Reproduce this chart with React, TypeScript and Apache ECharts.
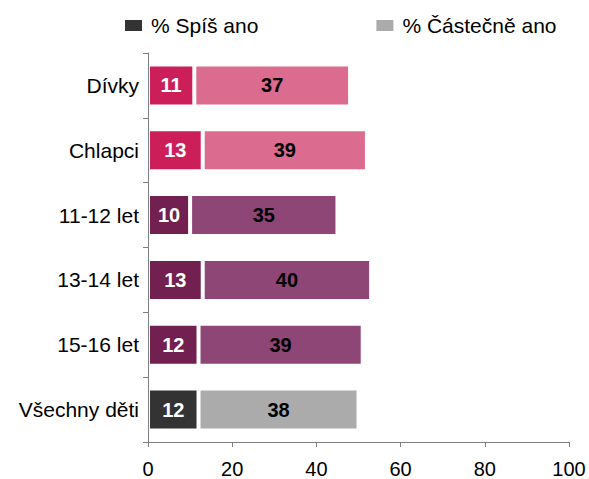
import React, { useEffect, useRef } from "react";
import * as echarts from "echarts";

const categories = ["Dívky", "Chlapci", "11-12 let", "13-14 let", "15-16 let", "Všechny děti"];
const spisAno = [11, 13, 10, 13, 12, 12];
const castecneAno = [37, 39, 35, 40, 39, 38];
const seriesNames = ["% Spíš ano", "% Částečně ano"];
const darkColors = ["#cc1f5a", "#cc1f5a", "#722050", "#722050", "#722050", "#333333"];
const lightColors = ["#db6b8f", "#db6b8f", "#8e4677", "#8e4677", "#8e4677", "#ababab"];
const xTicks = { min: 0, max: 100, interval: 20 };

const FONT = "'Liberation Sans', Arial, sans-serif";

export default function App() {
  const ref = useRef<HTMLDivElement>(null);
  useEffect(() => {
    if (!ref.current) return;
    const chart = echarts.init(ref.current, undefined, { renderer: "svg" });
    const labelBase = { show: true, position: "inside", fontFamily: FONT, fontSize: 20, fontWeight: "bold" };
    chart.setOption({
      animation: false,
      textStyle: { fontFamily: FONT },
      legend: {
        left: 118,
        top: 10,
        itemWidth: 19,
        itemHeight: 13,
        itemGap: 116,
        icon: "rect",
        textStyle: { fontFamily: FONT, fontSize: 21, color: "#000", padding: [0, 0, 0, 3] },
        data: seriesNames,
      },
      grid: { left: 148, right: 20, top: 53, bottom: 36, containLabel: false },
      xAxis: {
        type: "value",
        min: xTicks.min,
        max: xTicks.max,
        interval: xTicks.interval,
        splitLine: { show: false },
        axisLine: { show: true, lineStyle: { color: "#7f7f7f", width: 1 } },
        axisTick: { show: true, length: 5, lineStyle: { color: "#7f7f7f" } },
        axisLabel: { fontFamily: FONT, fontSize: 20, color: "#000", margin: 17 },
      },
      yAxis: {
        type: "category",
        data: categories,
        inverse: true,
        z: 5,
        axisLine: { show: true, lineStyle: { color: "#7f7f7f", width: 1 } },
        axisTick: { show: true, length: 5, lineStyle: { color: "#7f7f7f" } },
        axisLabel: { fontFamily: FONT, fontSize: 21, color: "#000", margin: 9 },
      },
      series: [
        {
          name: seriesNames[0],
          type: "bar",
          stack: "total",
          barWidth: 42,
          itemStyle: { color: "#333333", borderColor: "#ffffff", borderWidth: 2 },
          label: { ...labelBase, color: "#ffffff" },
          data: spisAno.map((v, i) => ({ value: v, itemStyle: { color: darkColors[i] } })),
        },
        {
          name: seriesNames[1],
          type: "bar",
          stack: "total",
          barWidth: 42,
          itemStyle: { color: "#ababab", borderColor: "#ffffff", borderWidth: 2 },
          label: { ...labelBase, color: "#000000" },
          data: castecneAno.map((v, i) => ({ value: v, itemStyle: { color: lightColors[i] } })),
        },
      ],
    });
    return () => chart.dispose();
  }, []);
  return (
    <div
      ref={ref}
      style={{ position: "fixed", left: 0, top: 0, width: 589, height: 479, background: "#fff" }}
    />
  );
}
